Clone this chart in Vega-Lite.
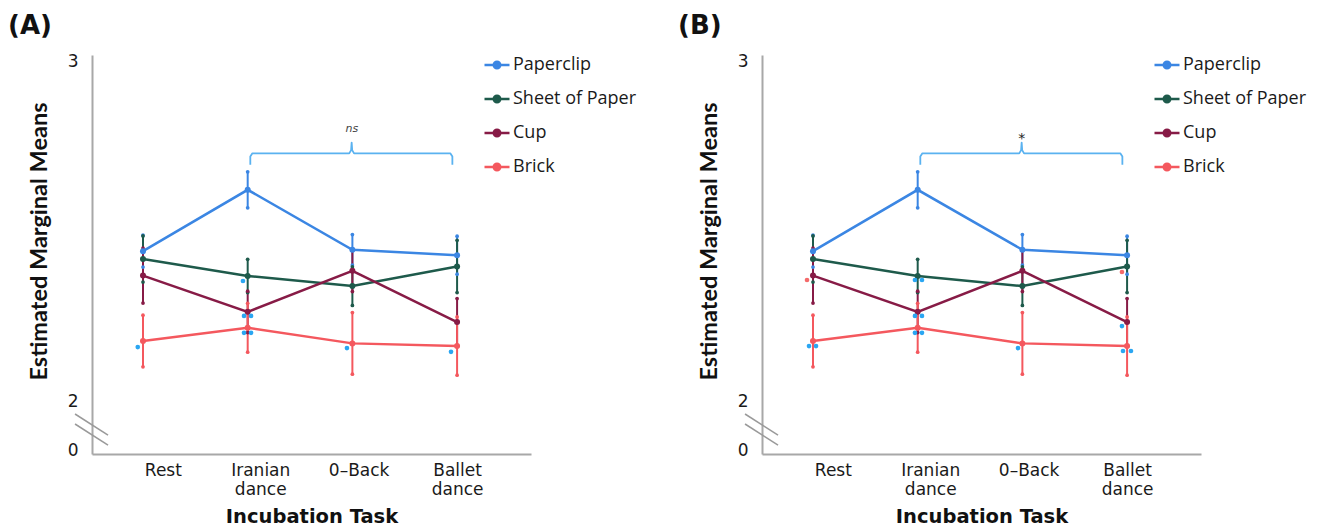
{
  "$schema": "https://vega.github.io/schema/vega-lite/v6.json",
  "background": "white",
  "padding": {"left": 8, "top": 13, "right": 4, "bottom": 0},
  "bounds": "flush",
  "spacing": 231,
  "config": {
    "view": {"stroke": null},
    "title": {"font": "DejaVu Sans", "fontWeight": "bold", "fontSize": 26, "color": "#111", "anchor": "start", "frame": "group", "dx": -84, "offset": 12},
    "axis": {"ticks": false, "grid": false, "domainColor": "#a8a8a8", "domainWidth": 2, "labelOverlap": false, "labelFlush": false, "labelColor": "#1a1a1a", "titleColor": "#111"}
  },
  "datasets": {
    "means": [
      {"task": "Rest", "t": 0, "object": "Paperclip", "mean": 2.442, "lo": 2.395, "hi": 2.489},
      {"task": "Iranian dance", "t": 1, "object": "Paperclip", "mean": 2.623, "lo": 2.570, "hi": 2.676},
      {"task": "0-Back", "t": 2, "object": "Paperclip", "mean": 2.446, "lo": 2.401, "hi": 2.491},
      {"task": "Ballet dance", "t": 3, "object": "Paperclip", "mean": 2.430, "lo": 2.374, "hi": 2.486},
      {"task": "Rest", "t": 0, "object": "Sheet of Paper", "mean": 2.419, "lo": 2.351, "hi": 2.487},
      {"task": "Iranian dance", "t": 1, "object": "Sheet of Paper", "mean": 2.369, "lo": 2.320, "hi": 2.418},
      {"task": "0-Back", "t": 2, "object": "Sheet of Paper", "mean": 2.339, "lo": 2.282, "hi": 2.396},
      {"task": "Ballet dance", "t": 3, "object": "Sheet of Paper", "mean": 2.397, "lo": 2.320, "hi": 2.474},
      {"task": "Rest", "t": 0, "object": "Cup", "mean": 2.370, "lo": 2.289, "hi": 2.451},
      {"task": "Iranian dance", "t": 1, "object": "Cup", "mean": 2.263, "lo": 2.202, "hi": 2.324},
      {"task": "0-Back", "t": 2, "object": "Cup", "mean": 2.384, "lo": 2.323, "hi": 2.445},
      {"task": "Ballet dance", "t": 3, "object": "Cup", "mean": 2.233, "lo": 2.164, "hi": 2.302},
      {"task": "Rest", "t": 0, "object": "Brick", "mean": 2.177, "lo": 2.101, "hi": 2.253},
      {"task": "Iranian dance", "t": 1, "object": "Brick", "mean": 2.216, "lo": 2.144, "hi": 2.288},
      {"task": "0-Back", "t": 2, "object": "Brick", "mean": 2.170, "lo": 2.079, "hi": 2.261},
      {"task": "Ballet dance", "t": 3, "object": "Brick", "mean": 2.162, "lo": 2.076, "hi": 2.248}
    ],
    "sigA": [
      {"t": -0.05, "y": 2.159, "vs": "Paperclip"},
      {"t": 0.955, "y": 2.354, "vs": "Paperclip"},
      {"t": 0.965, "y": 2.251, "vs": "Paperclip"},
      {"t": 1.032, "y": 2.251, "vs": "Paperclip"},
      {"t": 0.965, "y": 2.201, "vs": "Paperclip"},
      {"t": 1.032, "y": 2.201, "vs": "Paperclip"},
      {"t": 1.948, "y": 2.156, "vs": "Paperclip"},
      {"t": 2.942, "y": 2.145, "vs": "Paperclip"}
    ],
    "sigB": [
      {"t": -0.038, "y": 2.162, "vs": "Paperclip"},
      {"t": 0.029, "y": 2.162, "vs": "Paperclip"},
      {"t": -0.057, "y": 2.357, "vs": "Brick"},
      {"t": 0.974, "y": 2.357, "vs": "Paperclip"},
      {"t": 1.041, "y": 2.357, "vs": "Paperclip"},
      {"t": 0.974, "y": 2.251, "vs": "Paperclip"},
      {"t": 1.041, "y": 2.251, "vs": "Paperclip"},
      {"t": 0.974, "y": 2.201, "vs": "Paperclip"},
      {"t": 1.041, "y": 2.201, "vs": "Paperclip"},
      {"t": 1.958, "y": 2.156, "vs": "Paperclip"},
      {"t": 2.951, "y": 2.221, "vs": "Paperclip"},
      {"t": 2.961, "y": 2.1475, "vs": "Paperclip"},
      {"t": 3.037, "y": 2.1475, "vs": "Paperclip"},
      {"t": 2.951, "y": 2.3805, "vs": "Brick"}
    ],
    "bracket": [
      {"k": 1, "t": 1.025, "y": 2.697},
      {"k": 2, "t": 1.025, "y": 2.721},
      {"k": 3, "t": 1.045, "y": 2.7305},
      {"k": 4, "t": 1.97, "y": 2.7305},
      {"k": 5, "t": 1.988, "y": 2.740},
      {"k": 6, "t": 1.993, "y": 2.762},
      {"k": 7, "t": 1.998, "y": 2.740},
      {"k": 8, "t": 2.016, "y": 2.7305},
      {"k": 9, "t": 2.935, "y": 2.7305},
      {"k": 10, "t": 2.955, "y": 2.721},
      {"k": 11, "t": 2.955, "y": 2.697}
    ],
    "breaks": [
      {"seg": 1, "t": -0.649, "y": 1.9617},
      {"seg": 1, "t": -0.334, "y": 1.8997},
      {"seg": 2, "t": -0.649, "y": 1.9322},
      {"seg": 2, "t": -0.334, "y": 1.8702}
    ],
    "annA": [{"t": 1.996, "y": 2.802, "label": "ns"}],
    "annB": [{"t": 1.993, "y": 2.772, "label": "*"}]
  },
  "hconcat": [
    {
      "width": 439,
      "height": 399,
      "title": {"text": "(A)"},
      "encoding": {
        "x": {"field": "t", "type": "quantitative",
          "scale": {"domain": [-0.487, 3.706], "nice": false, "zero": false},
          "axis": {"title": "Incubation Task", "values": [0.19, 1.12, 2.06, 3.0],
            "labelExpr": "datum.value < 0.6 ? 'Rest' : datum.value < 1.6 ? ['Iranian', 'dance'] : datum.value < 2.6 ? '0–Back' : ['Ballet', 'dance']",
            "labelFont": "DejaVu Sans", "labelFontSize": 17, "labelPadding": 8, "labelLineHeight": 19, "labelAngle": 0,
            "titleFont": "DejaVu Sans", "titleFontWeight": "bold", "titleFontSize": 19.5, "titlePadding": 10}}
      },
      "layer": [
        {
          "data": {"name": "means"},
          "mark": {"type": "line", "strokeWidth": 2.5},
          "encoding": {
            "y": {"field": "mean", "type": "quantitative",
              "scale": {"domain": [1.8437, 3.0206], "nice": false, "zero": false},
              "axis": {"title": "Estimated Marginal Means", "values": [1.853, 2, 3],
                "labelExpr": "datum.value < 1.9 ? '0' : format(datum.value, 'd')",
                "labelFont": "DejaVu Sans", "labelFontSize": 17, "labelPadding": 14,
                "titleFont": "Lato", "titleFontWeight": "bold", "titleFontSize": 23.5, "titlePadding": 16, "titleY": 186}},
            "color": {"field": "object", "type": "nominal",
              "scale": {"domain": ["Paperclip", "Sheet of Paper", "Cup", "Brick"], "range": ["#3b86e3", "#1e5a4b", "#871b46", "#f4585e"]},
              "legend": {"title": null, "orient": "none", "legendX": 391, "legendY": -4,
                "symbolType": "M-1,0L1,0M-0.26,0A0.26,0.26,0,1,0,0.26,0A0.26,0.26,0,1,0,-0.26,0",
                "symbolSize": 625, "symbolStrokeWidth": 2.5,
                "labelFont": "Open Sans", "labelFontSize": 18, "labelColor": "#1a1a1a", "labelOffset": 2, "rowPadding": 11}}
          }
        },
        {
          "data": {"name": "means"},
          "mark": {"type": "rule", "strokeWidth": 2},
          "encoding": {
            "y": {"field": "lo", "type": "quantitative", "title": "Estimated Marginal Means"},
            "y2": {"field": "hi"},
            "color": {"field": "object", "type": "nominal", "legend": null}
          }
        },
        {
          "data": {"name": "means"},
          "mark": {"type": "point", "filled": true, "size": 14, "opacity": 1},
          "encoding": {
            "y": {"field": "lo", "type": "quantitative", "title": "Estimated Marginal Means"},
            "color": {"field": "object", "type": "nominal", "legend": null}
          }
        },
        {
          "data": {"name": "means"},
          "mark": {"type": "point", "filled": true, "size": 14, "opacity": 1},
          "encoding": {
            "y": {"field": "hi", "type": "quantitative", "title": "Estimated Marginal Means"},
            "color": {"field": "object", "type": "nominal", "legend": null}
          }
        },
        {
          "data": {"name": "means"},
          "mark": {"type": "point", "filled": true, "size": 36, "opacity": 1},
          "encoding": {
            "y": {"field": "mean", "type": "quantitative", "title": "Estimated Marginal Means"},
            "color": {"field": "object", "type": "nominal", "legend": null}
          }
        },
        {
          "data": {"name": "sigA"},
          "transform": [{"filter": "datum.vs === 'Paperclip'"}],
          "mark": {"type": "point", "filled": true, "size": 22, "opacity": 1, "color": "#2aa6f2"},
          "encoding": {
            "y": {"field": "y", "type": "quantitative", "title": "Estimated Marginal Means"}
          }
        },
        {
          "data": {"name": "bracket"},
          "mark": {"type": "line", "strokeWidth": 1.8, "color": "#5ab2f0", "strokeJoin": "round"},
          "encoding": {
            "y": {"field": "y", "type": "quantitative", "title": "Estimated Marginal Means"},
            "order": {"field": "k", "type": "quantitative"}
          }
        },
        {
          "data": {"name": "annA"},
          "mark": {"type": "text", "font": "DejaVu Sans", "fontStyle": "italic", "fontSize": 11, "color": "#444", "baseline": "middle"},
          "encoding": {
            "y": {"field": "y", "type": "quantitative", "title": "Estimated Marginal Means"},
            "text": {"field": "label"}
          }
        },
        {
          "data": {"name": "breaks"},
          "mark": {"type": "line", "strokeWidth": 1.5, "color": "#9a9a9a"},
          "encoding": {
            "y": {"field": "y", "type": "quantitative", "title": "Estimated Marginal Means"},
            "detail": {"field": "seg", "type": "nominal"}
          }
        }
      ]
    },
    {
      "width": 439,
      "height": 399,
      "title": {"text": "(B)"},
      "encoding": {
        "x": {"field": "t", "type": "quantitative",
          "scale": {"domain": [-0.487, 3.706], "nice": false, "zero": false},
          "axis": {"title": "Incubation Task", "values": [0.19, 1.12, 2.06, 3.0],
            "labelExpr": "datum.value < 0.6 ? 'Rest' : datum.value < 1.6 ? ['Iranian', 'dance'] : datum.value < 2.6 ? '0–Back' : ['Ballet', 'dance']",
            "labelFont": "DejaVu Sans", "labelFontSize": 17, "labelPadding": 8, "labelLineHeight": 19, "labelAngle": 0,
            "titleFont": "DejaVu Sans", "titleFontWeight": "bold", "titleFontSize": 19.5, "titlePadding": 10}}
      },
      "layer": [
        {
          "data": {"name": "means"},
          "mark": {"type": "line", "strokeWidth": 2.5},
          "encoding": {
            "y": {"field": "mean", "type": "quantitative",
              "scale": {"domain": [1.8437, 3.0206], "nice": false, "zero": false},
              "axis": {"title": "Estimated Marginal Means", "values": [1.853, 2, 3],
                "labelExpr": "datum.value < 1.9 ? '0' : format(datum.value, 'd')",
                "labelFont": "DejaVu Sans", "labelFontSize": 17, "labelPadding": 14,
                "titleFont": "Lato", "titleFontWeight": "bold", "titleFontSize": 23.5, "titlePadding": 16, "titleY": 186}},
            "color": {"field": "object", "type": "nominal",
              "scale": {"domain": ["Paperclip", "Sheet of Paper", "Cup", "Brick"], "range": ["#3b86e3", "#1e5a4b", "#871b46", "#f4585e"]},
              "legend": {"title": null, "orient": "none", "legendX": 391, "legendY": -4,
                "symbolType": "M-1,0L1,0M-0.26,0A0.26,0.26,0,1,0,0.26,0A0.26,0.26,0,1,0,-0.26,0",
                "symbolSize": 625, "symbolStrokeWidth": 2.5,
                "labelFont": "Open Sans", "labelFontSize": 18, "labelColor": "#1a1a1a", "labelOffset": 2, "rowPadding": 11}}
          }
        },
        {
          "data": {"name": "means"},
          "mark": {"type": "rule", "strokeWidth": 2},
          "encoding": {
            "y": {"field": "lo", "type": "quantitative", "title": "Estimated Marginal Means"},
            "y2": {"field": "hi"},
            "color": {"field": "object", "type": "nominal", "legend": null}
          }
        },
        {
          "data": {"name": "means"},
          "mark": {"type": "point", "filled": true, "size": 14, "opacity": 1},
          "encoding": {
            "y": {"field": "lo", "type": "quantitative", "title": "Estimated Marginal Means"},
            "color": {"field": "object", "type": "nominal", "legend": null}
          }
        },
        {
          "data": {"name": "means"},
          "mark": {"type": "point", "filled": true, "size": 14, "opacity": 1},
          "encoding": {
            "y": {"field": "hi", "type": "quantitative", "title": "Estimated Marginal Means"},
            "color": {"field": "object", "type": "nominal", "legend": null}
          }
        },
        {
          "data": {"name": "means"},
          "mark": {"type": "point", "filled": true, "size": 36, "opacity": 1},
          "encoding": {
            "y": {"field": "mean", "type": "quantitative", "title": "Estimated Marginal Means"},
            "color": {"field": "object", "type": "nominal", "legend": null}
          }
        },
        {
          "data": {"name": "sigB"},
          "transform": [{"filter": "datum.vs === 'Paperclip'"}],
          "mark": {"type": "point", "filled": true, "size": 22, "opacity": 1, "color": "#2aa6f2"},
          "encoding": {
            "y": {"field": "y", "type": "quantitative", "title": "Estimated Marginal Means"}
          }
        },
        {
          "data": {"name": "sigB"},
          "transform": [{"filter": "datum.vs === 'Brick'"}],
          "mark": {"type": "point", "filled": true, "size": 22, "opacity": 1, "color": "#f46a6a"},
          "encoding": {
            "y": {"field": "y", "type": "quantitative", "title": "Estimated Marginal Means"}
          }
        },
        {
          "data": {"name": "bracket"},
          "mark": {"type": "line", "strokeWidth": 1.8, "color": "#5ab2f0", "strokeJoin": "round"},
          "encoding": {
            "y": {"field": "y", "type": "quantitative", "title": "Estimated Marginal Means"},
            "order": {"field": "k", "type": "quantitative"}
          }
        },
        {
          "data": {"name": "annB"},
          "mark": {"type": "text", "font": "DejaVu Sans", "fontSize": 14, "color": "#222", "baseline": "middle"},
          "encoding": {
            "y": {"field": "y", "type": "quantitative", "title": "Estimated Marginal Means"},
            "text": {"field": "label"}
          }
        },
        {
          "data": {"name": "breaks"},
          "mark": {"type": "line", "strokeWidth": 1.5, "color": "#9a9a9a"},
          "encoding": {
            "y": {"field": "y", "type": "quantitative", "title": "Estimated Marginal Means"},
            "detail": {"field": "seg", "type": "nominal"}
          }
        }
      ]
    }
  ],
  "resolve": {"scale": {"color": "independent"}, "legend": {"color": "independent"}}
}
